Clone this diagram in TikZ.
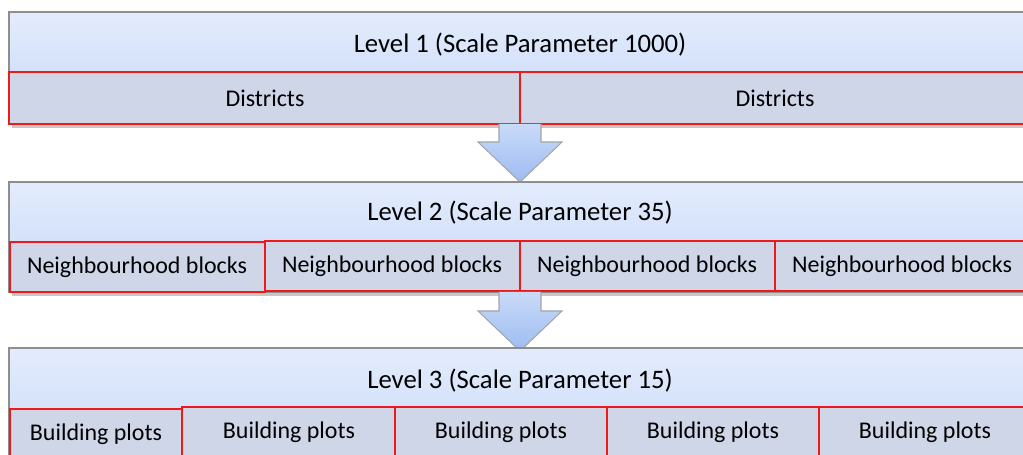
\documentclass[tikz,border=0pt]{standalone}
\usepackage{fontspec}
\setmainfont{Carlito}
\usetikzlibrary{calc}
\definecolor{hdtop}{HTML}{E3ECFC}
\definecolor{hdbot}{HTML}{C7D8F8}
\definecolor{cellfill}{HTML}{CED6E8}
\definecolor{cellred}{HTML}{F01818}
\definecolor{frame}{HTML}{8E8E8E}
\definecolor{arrtop}{HTML}{C9DAF8}
\definecolor{arrbot}{HTML}{9DBCF2}
\tikzset{
  header/.style={top color=hdtop, bottom color=hdbot, draw=frame, line width=0.7pt},
  shadowbox/.style={fill=black, opacity=0.22},
  cellbox/.style={fill=cellfill, draw=cellred, line width=1.2pt},
  lvltext/.style={font=\fontsize{15.2}{17}\selectfont, inner sep=0pt},
  celltext/.style={font=\fontsize{13.65}{15}\selectfont, inner sep=0pt},
  downarrow/.style={top color=arrtop, bottom color=arrbot, draw=frame!80, line width=0.6pt, line join=miter}
}
\begin{document}
\begin{tikzpicture}[x=0.02cm,y=-0.02cm]
\useasboundingbox (0,0) rectangle (1023,455);
\clip (0,0) rectangle (1023,455);
% ---------- Level 1
\fill[shadowbox] (12,15) rectangle (1030,128);
\draw[header] (9,12) rectangle (1030,124);
\draw[cellbox] (9,72) rectangle (520,124);
\draw[cellbox] (520,72) rectangle (1030,124);
\node[lvltext] (l1) at (520,45) {Level 1 (Scale Parameter 1000)};
\node[celltext] (d1) at (265,98) {Districts};
\node[celltext] (d2) at (775,98) {Districts};
% ---------- arrow 1
\draw[downarrow] (499,124) -- (499,142) -- (478,142) -- (520,182) -- (562,142) -- (541,142) -- (541,124);
% ---------- Level 2
\fill[shadowbox] (12,185) rectangle (1030,296);
\draw[header] (9,182) rectangle (1030,292);
\draw[cellbox] (265,241) rectangle (520,291);
\draw[cellbox] (520,241) rectangle (775,291);
\draw[cellbox] (775,241) rectangle (1030,291);
\draw[cellbox] (10,242) rectangle (265,292);
\node[lvltext] (l2) at (520,213) {Level 2 (Scale Parameter 35)};
\node[celltext] (n1) at (137,267) {Neighbourhood blocks};
\node[celltext] (n2) at (392,266) {Neighbourhood blocks};
\node[celltext] (n3) at (647,266) {Neighbourhood blocks};
\node[celltext] (n4) at (902,266) {Neighbourhood blocks};
% ---------- arrow 2
\draw[downarrow] (499,292) -- (499,311) -- (478,311) -- (520,351) -- (562,311) -- (541,311) -- (541,292);
% ---------- Level 3
\fill[shadowbox] (12,351) rectangle (1030,470);
\draw[header] (9,348) rectangle (1030,470);
\draw[cellbox] (182,407) rectangle (395,470);
\draw[cellbox] (395,407) rectangle (607,470);
\draw[cellbox] (607,407) rectangle (819,470);
\draw[cellbox] (819,407) rectangle (1030,470);
\draw[cellbox] (10,409) rectangle (182,470);
\node[lvltext] (l3) at (520,381) {Level 3 (Scale Parameter 15)};
\node[celltext] (b1) at (96,434) {Building plots};
\node[celltext] (b2) at (289,432) {Building plots};
\node[celltext] (b3) at (501,432) {Building plots};
\node[celltext] (b4) at (713,432) {Building plots};
\node[celltext] (b5) at (925,432) {Building plots};
\end{tikzpicture}
\end{document}
